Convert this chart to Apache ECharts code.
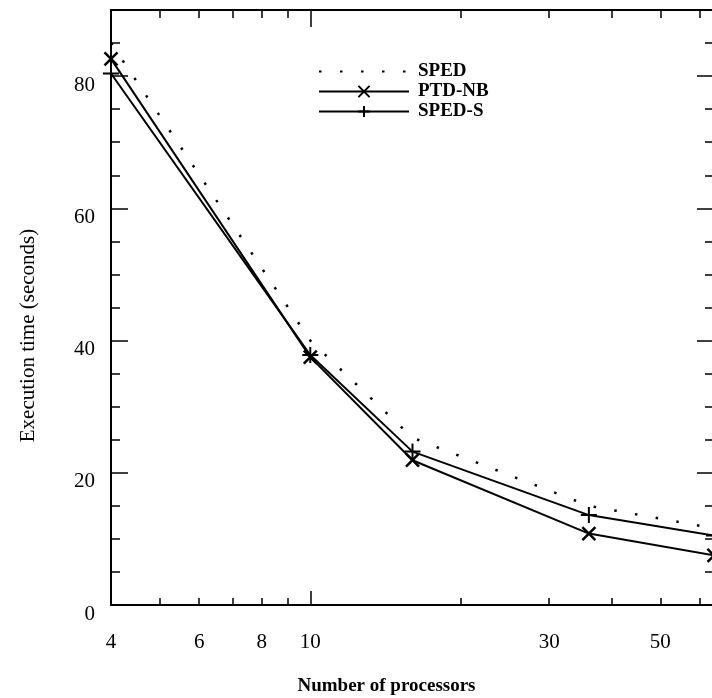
<!DOCTYPE html>
<html><head><meta charset="utf-8">
<script src="https://cdn.jsdelivr.net/npm/echarts@6/dist/echarts.min.js"></script>
<style>html,body{margin:0;padding:0;background:#fff}#c{width:712px;height:698px}</style>
</head><body><div id="c"></div>
<script>
const processors = [4, 10, 16, 36, 64];
const sped = [85, 40, 25.3, 15, 11.6];
const ptdnb = [82.6, 37.5, 21.9, 10.8, 7.5];
const speds = [80.4, 37.8, 23.2, 13.6, 10.5];
const xLabelValues = [4, 6, 8, 10, 30, 50];
const xMinorTickValues = [5, 6, 7, 8, 9, 20, 30, 40, 50, 60];
const xMajorTickValues = [10];
const yLabelValues = [0, 20, 40, 60, 80];
const yMinorTickValues = [5, 10, 15, 25, 30, 35, 45, 50, 55, 65, 70, 75, 85];

const FONT = 'Liberation Serif';
const black = '#000';
function pairs(ys) { return processors.map((x, i) => [x, ys[i]]); }

function xAx(pos, showLine, tickVals, len, labels) {
  return {
    type: 'log', logBase: 10, min: 4, max: 64, position: pos, offset: 0,
    axisLine: { show: showLine, onZero: false, lineStyle: { color: black, width: 2 } },
    splitLine: { show: false },
    axisTick: { show: true, inside: true, length: len, customValues: tickVals, lineStyle: { color: black, width: 1.5 } },
    axisLabel: labels ? { show: true, customValues: xLabelValues, color: black, fontFamily: FONT, fontSize: 21, margin: 27 } : { show: false }
  };
}
function yAx(pos, showLine, tickVals, len, labels) {
  return {
    type: 'value', min: 0, max: 90, position: pos, offset: 0,
    axisLine: { show: showLine, onZero: false, lineStyle: { color: black, width: 2 } },
    splitLine: { show: false },
    axisTick: { show: true, inside: true, length: len, customValues: tickVals, lineStyle: { color: black, width: 1.5 } },
    axisLabel: labels ? { show: true, customValues: yLabelValues, color: black, fontFamily: FONT, fontSize: 21, margin: 16, verticalAlign: 'top', verticalAlignMinLabel: 'top', verticalAlignMaxLabel: 'top', lineHeight: 18 } : { show: false }
  };
}

const xAxes = [
  Object.assign(xAx('bottom', true, xMinorTickValues, 7, true), {
    name: 'Number of processors', nameLocation: 'middle', nameGap: 72,
    nameTextStyle: { color: black, fontFamily: FONT, fontSize: 19, fontWeight: 'bold', padding: [0, 52, 0, 0] }
  }),
  xAx('bottom', false, xMajorTickValues, 14, false),
  xAx('top', true, xMinorTickValues, 8, false),
  xAx('top', false, xMajorTickValues, 17, false)
];
const yAxes = [
  Object.assign(yAx('left', true, yLabelValues, 17, true), {
    name: 'Execution time (seconds)', nameLocation: 'middle', nameGap: 72,
    nameTextStyle: { color: black, fontFamily: FONT, fontSize: 21, padding: [0, 56, 0, 0] }
  }),
  yAx('left', false, yMinorTickValues, 9, false),
  yAx('right', false, yLabelValues, 17, false),
  yAx('right', false, yMinorTickValues, 9, false)
];

const chart = echarts.init(document.getElementById('c'), null, { renderer: 'canvas' });
chart.setOption({
  backgroundColor: '#fff',
  animation: false,
  grid: { left: 111, right: -2, top: 10, bottom: 93, containLabel: false, outerBoundsMode: 'none' },
  xAxis: xAxes,
  yAxis: yAxes,
  legend: {
    data: [
      { name: 'SPED', itemStyle: { color: 'rgba(0,0,0,0)', borderWidth: 0 } },
      { name: 'PTD-NB' },
      { name: 'SPED-S' }
    ],
    orient: 'vertical', left: 313, top: 57,
    itemWidth: 90, itemHeight: 14, itemGap: 1,
    textStyle: { color: black, fontFamily: FONT, fontSize: 19, fontWeight: 'bold', padding: [0, 0, 0, 4] }
  },
  series: [
    {
      name: 'SPED', type: 'line', data: pairs(sped), symbol: 'none',
      lineStyle: { color: black, width: 2.5, type: [2.5, 18.5] }, itemStyle: { color: black }
    },
    {
      name: 'PTD-NB', type: 'line', data: pairs(ptdnb),
      symbol: 'path://M0,0L10,10M10,0L0,10', symbolSize: 13,
      lineStyle: { color: black, width: 2 },
      itemStyle: { color: 'none', borderColor: black, borderWidth: 2.5 }
    },
    {
      name: 'SPED-S', type: 'line', data: pairs(speds),
      symbol: 'path://M5,0L5,10M0,5L10,5', symbolSize: 16,
      lineStyle: { color: black, width: 2 },
      itemStyle: { color: 'none', borderColor: black, borderWidth: 2 }
    }
  ]
});
</script></body></html>
